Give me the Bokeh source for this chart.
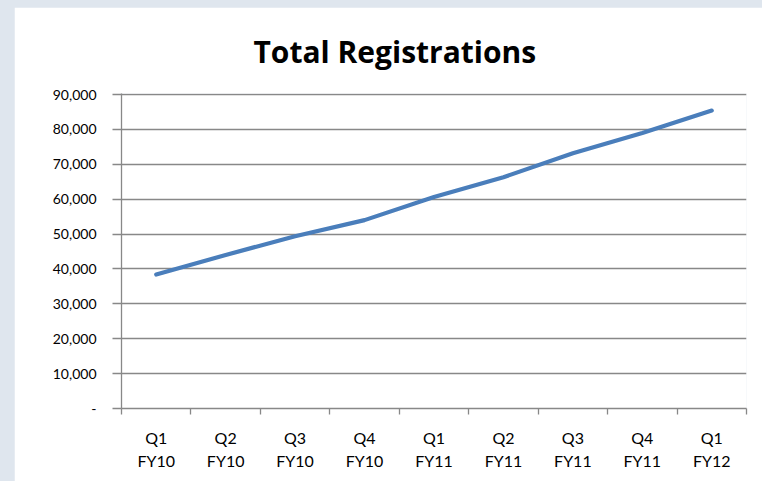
from bokeh.plotting import figure
from bokeh.layouts import column
from bokeh.models import FixedTicker, NumeralTickFormatter, Range1d
from bokeh.embed import file_html
from bokeh.resources import INLINE

quarters = ["Q1\nFY10", "Q2\nFY10", "Q3\nFY10", "Q4\nFY10", "Q1\nFY11",
            "Q2\nFY11", "Q3\nFY11", "Q4\nFY11", "Q1\nFY12"]
registrations = [38400, 44000, 49400, 54000, 60600, 66300, 73200, 79000, 85400]
y_ticks = [0, 10000, 20000, 30000, 40000, 50000, 60000, 70000, 80000, 90000]

xs = [i + 0.5 for i in range(len(quarters))]

p = figure(width=748, height=474, output_backend="svg", toolbar_location=None,
           x_range=Range1d(0, len(quarters)), y_range=Range1d(0, 90300),
           min_border_left=107, min_border_right=16, min_border_top=86, min_border_bottom=73)

p.title.text = "Total Registrations"
p.title.align = "left"
p.title.offset = 132
p.title.text_font = "Open Sans"
p.title.text_font_size = "30px"
p.title.text_font_style = "bold"
p.title.text_color = "#000000"
p.title.standoff = 43

p.line(xs, registrations, line_color="#4a7ebb", line_width=4.2, line_cap="round")

grey = "#888888"
p.outline_line_color = None
p.background_fill_color = "white"
p.border_fill_color = "white"

p.xgrid.visible = False
p.ygrid.grid_line_color = grey
p.ygrid.grid_line_width = 1.3
p.ygrid.ticker = FixedTicker(ticks=y_ticks)

yax = p.yaxis[0]
yax.ticker = FixedTicker(ticks=y_ticks)
yax.formatter = NumeralTickFormatter(format="0,0")
yax.major_label_overrides = {0: "-"}
yax.axis_line_color = grey
yax.axis_line_width = 1.3
yax.major_tick_line_color = grey
yax.major_tick_line_width = 1.3
yax.major_tick_out = 9
yax.major_tick_in = 0
yax.minor_tick_line_color = None
yax.major_label_text_font = "Lato"
yax.major_label_text_font_size = "14px"
yax.major_label_text_color = "#000000"
yax.major_label_standoff = 16

xax = p.xaxis[0]
xax.ticker = FixedTicker(ticks=xs, minor_ticks=list(range(len(quarters) + 1)))
xax.major_label_overrides = {x: q for x, q in zip(xs, quarters)}
xax.axis_line_color = grey
xax.axis_line_width = 1.3
xax.major_tick_line_color = None
xax.major_tick_out = 0
xax.major_tick_in = 0
xax.minor_tick_line_color = grey
xax.minor_tick_line_width = 1.3
xax.minor_tick_out = 6
xax.minor_tick_in = 0
xax.major_label_text_font = "Lato"
xax.major_label_text_font_size = "16px"
xax.major_label_text_color = "#000000"
xax.major_label_standoff = 13
xax.major_label_text_line_height = 1.25

layout = column(p, styles={"background-color": "#dfe6ee", "padding": "7px 0px 0px 14px"})

open("out.html", "w").write(file_html(layout, INLINE))
